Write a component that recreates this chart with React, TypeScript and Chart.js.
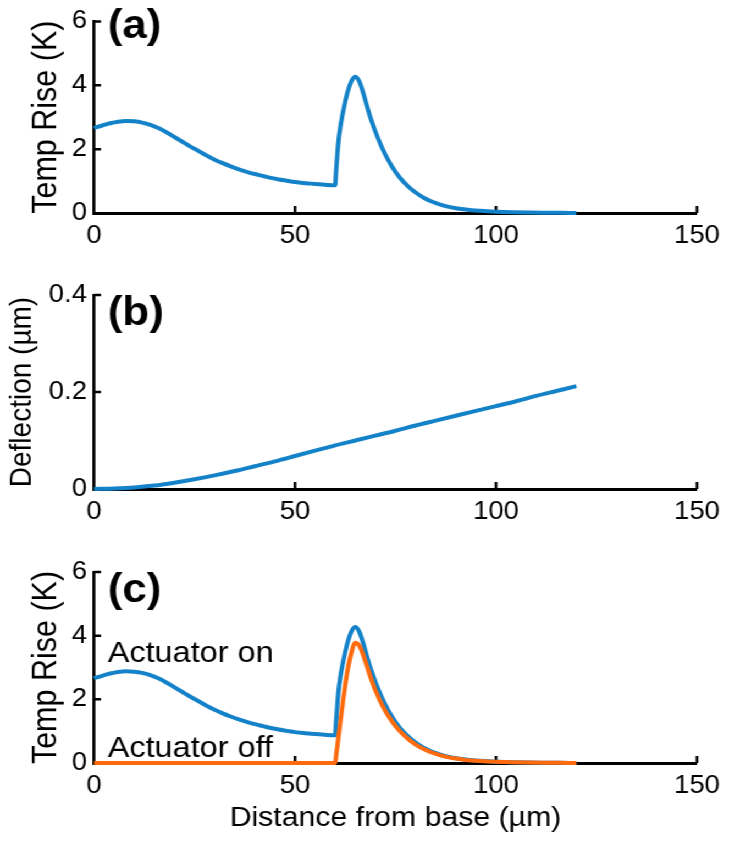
import React, { useEffect, useRef } from "react";
import { Chart, registerables } from "chart.js";

Chart.register(...registerables);

// ---------- data ----------
const distance = [
  0, 2, 4, 6, 8, 10, 12, 14, 16, 18, 20, 22, 24, 26, 28, 30, 32, 34, 36, 38, 40,
  42, 44, 46, 48, 50, 52, 54, 56, 58, 60, 60.2, 60.6, 61, 62, 63, 64, 65, 66, 67,
  68, 69, 70, 72, 74, 76, 78, 80, 82, 84, 86, 88, 90, 92, 94, 96, 98, 100, 104,
  108, 112, 116, 120,
];

const tempOn = [
  2.66, 2.74, 2.81, 2.86, 2.88, 2.87, 2.83, 2.76, 2.66, 2.53, 2.38, 2.23, 2.08,
  1.94, 1.8, 1.67, 1.56, 1.46, 1.37, 1.29, 1.22, 1.16, 1.1, 1.05, 1.01, 0.97,
  0.94, 0.92, 0.9, 0.88, 0.87, 1.25, 1.95, 2.45, 3.2, 3.75, 4.12, 4.27, 4.12,
  3.75, 3.3, 2.9, 2.55, 1.95, 1.48, 1.12, 0.85, 0.64, 0.48, 0.36, 0.27, 0.2,
  0.15, 0.115, 0.088, 0.068, 0.052, 0.04, 0.024, 0.014, 0.008, 0.004, 0.002,
];

const tempOff = [
  0, 0, 0, 0, 0, 0, 0, 0, 0, 0, 0, 0, 0, 0, 0, 0, 0, 0, 0, 0, 0, 0, 0, 0, 0, 0,
  0, 0, 0, 0, 0, 0.2, 0.6, 1.0, 2.0, 2.85, 3.45, 3.78, 3.68, 3.38, 3.0, 2.62,
  2.28, 1.74, 1.33, 1.01, 0.77, 0.58, 0.44, 0.33, 0.25, 0.185, 0.14, 0.105,
  0.08, 0.062, 0.048, 0.037, 0.022, 0.013, 0.007, 0.004, 0.002,
];

const deflDistance = [
  0, 5, 10, 15, 20, 25, 30, 35, 40, 45, 50, 55, 60, 65, 70, 75, 80, 85, 90, 95,
  100, 105, 110, 115, 120,
];

const deflection = [
  0, 0.001, 0.003, 0.007, 0.013, 0.02, 0.028, 0.037, 0.047, 0.057, 0.068, 0.079,
  0.09, 0.1, 0.11, 0.12, 0.131, 0.141, 0.151, 0.161, 0.171, 0.181, 0.192, 0.202,
  0.212,
];

const xTicks = [0, 50, 100, 150];
const tempTicks = [0, 2, 4, 6];
const deflTicks = [0, 0.2, 0.4];
const panelLabels = ["(a)", "(b)", "(c)"];
const annotations = ["Actuator on", "Actuator off"];
const yTitles = ["Temp Rise (K)", "Deflection (\u00b5m)", "Temp Rise (K)"];
const xTitle = "Distance from base (\u00b5m)";

// ---------- style / layout ----------
const BLUE = "#1482c8";
const ORANGE = "#ff6a0c";
const FONT = '"Liberation Sans", Arial, Helvetica, sans-serif';
const W = 663;
const K = 729 / W;
const AXIS_LEFT = 94 / K;
const RIGHT_PAD = W - 697 / K;

Chart.defaults.font.family = FONT;
Chart.defaults.color = "#000";

const toPoints = (xs: number[], ys: number[]) =>
  xs.map((x, i) => ({ x, y: ys[i] }));

const decor = {
  id: "decor",
  beforeDatasetsDraw(chart: any) {
    const { ctx, chartArea, scales } = chart;
    const xs = scales.x;
    const ys = scales.y;
    ctx.save();
    ctx.strokeStyle = "#000";
    ctx.lineWidth = 2.5;
    ctx.beginPath();
    xs.ticks.forEach((t: any) => {
      if (t.value === 0) return;
      const px = xs.getPixelForValue(t.value);
      ctx.moveTo(px, chartArea.bottom);
      ctx.lineTo(px, chartArea.bottom - 7);
    });
    ys.ticks.forEach((t: any) => {
      if (t.value === 0) return;
      const py = ys.getPixelForValue(t.value);
      ctx.moveTo(chartArea.left, py);
      ctx.lineTo(chartArea.left + 6.4, py);
    });
    ctx.stroke();
    ctx.restore();
  },
  afterDatasetsDraw(chart: any, _args: any, opts: any) {
    const { ctx, chartArea, scales } = chart;
    ctx.save();
    ctx.fillStyle = "#000";
    ctx.textAlign = "left";
    ctx.textBaseline = "alphabetic";
    ctx.font = `bold 40px ${FONT}`;
    ctx.fillText(opts.label, chartArea.left + 12.5, chartArea.top + opts.labelDy);
    if (opts.notes) {
      ctx.font = `29.5px ${FONT}`;
      opts.notes.forEach((n: any) => {
        ctx.fillText(n.text, chartArea.left + 12.5, scales.y.getPixelForValue(n.y));
      });
    }
    ctx.restore();
  },
};

type Spec = {
  top: number;
  height: number;
  plotTop: number;
  plotBottom: number;
  datasets: any[];
  yMax: number;
  yTicks: number[];
  yTitle: string;
  yTitleSize: number;
  yTitleX: number;
  xTitle?: string;
  label: string;
  labelDy: number;
  notes?: { text: string; y: number }[];
};

function Panel({ spec }: { spec: Spec }) {
  const ref = useRef<HTMLCanvasElement>(null);
  useEffect(() => {
    const chart = new Chart(ref.current as HTMLCanvasElement, {
      type: "line",
      data: { datasets: spec.datasets },
      options: {
        responsive: false,
        maintainAspectRatio: false,
        animation: false,
        events: [],
        layout: {
          padding: { top: spec.plotTop, right: RIGHT_PAD, left: 0, bottom: 0 },
        },
        elements: {
          point: { radius: 0 },
          line: { borderWidth: 4, cubicInterpolationMode: "monotone", tension: 0.4 },
        },
        plugins: {
          legend: { display: false },
          tooltip: { enabled: false },
          decor: { label: spec.label, labelDy: spec.labelDy, notes: spec.notes },
        } as any,
        scales: {
          x: {
            type: "linear",
            min: 0,
            max: 150,
            grid: { display: false, drawTicks: false },
            border: { display: true, color: "#000", width: 3 },
            ticks: {
              color: "#000",
              font: { size: 25 },
              padding: 8,
              maxRotation: 0,
              autoSkip: false,
            },
            afterBuildTicks: (s: any) => {
              s.ticks = xTicks.map((v) => ({ value: v }));
            },
            afterFit: (s: any) => {
              s.height = spec.height - spec.plotBottom;
            },
            title: spec.xTitle
              ? {
                  display: true,
                  text: spec.xTitle,
                  color: "#000",
                  font: { size: 27.5 },
                  padding: { top: 0, bottom: 8.5 },
                }
              : { display: false },
          },
          y: {
            type: "linear",
            min: 0,
            max: spec.yMax,
            grid: { display: false, drawTicks: false },
            border: { display: true, color: "#000", width: 3 / K },
            ticks: { color: "#000", font: { size: 25 }, padding: 6.4 },
            afterBuildTicks: (s: any) => {
              s.ticks = spec.yTicks.map((v) => ({ value: v }));
            },
            afterFit: (s: any) => {
              s.width = AXIS_LEFT;
            },
            title: {
              display: true,
              text: spec.yTitle,
              color: "#000",
              font: { size: spec.yTitleSize },
              padding: { top: spec.yTitleX - 0.6 * spec.yTitleSize, bottom: 0 },
            },
          },
        } as any,
      },
      plugins: [decor as any],
    });
    return () => chart.destroy();
  }, []);
  return (
    <canvas
      ref={ref}
      width={W}
      height={spec.height}
      style={{
        position: "absolute",
        left: 0,
        top: spec.top,
        width: W,
        height: spec.height,
      }}
    />
  );
}

const lineDs = (label: string, xs: number[], ys: number[], color: string, order: number) => ({
  label,
  data: toPoints(xs, ys),
  borderColor: color,
  backgroundColor: color,
  borderWidth: 4,
  fill: false,
  clip: false,
  order,
});

const specs: Spec[] = [
  {
    top: 0,
    height: 262,
    plotTop: 21,
    plotBottom: 213,
    datasets: [lineDs("on", distance, tempOn, BLUE, 0)],
    yMax: 6,
    yTicks: tempTicks,
    yTitle: yTitles[0],
    yTitleSize: 30.5,
    yTitleX: 42.7,
    label: panelLabels[0],
    labelDy: 16.5,
  },
  {
    top: 262,
    height: 288,
    plotTop: 33,
    plotBottom: 227,
    datasets: [lineDs("deflection", deflDistance, deflection, BLUE, 0)],
    yMax: 0.4,
    yTicks: deflTicks,
    yTitle: yTitles[1],
    yTitleSize: 28,
    yTitleX: 20,
    label: panelLabels[1],
    labelDy: 30,
  },
  {
    top: 550,
    height: 293,
    plotTop: 22,
    plotBottom: 213,
    datasets: [
      lineDs("off", distance, tempOff, ORANGE, 0),
      lineDs("on", distance, tempOn, BLUE, 1),
    ],
    yMax: 6,
    yTicks: tempTicks,
    yTitle: yTitles[2],
    yTitleSize: 30.5,
    yTitleX: 42.7,
    xTitle,
    label: panelLabels[2],
    labelDy: 30,
    notes: [
      { text: annotations[0], y: 3.17 },
      { text: annotations[1], y: 0.19 },
    ],
  },
];

export default function App() {
  return (
    <div
      style={{
        position: "absolute",
        left: 0,
        top: 0,
        width: W,
        height: 843,
        overflow: "hidden",
        background: "#fff",
        transform: `scaleX(${K})`,
        transformOrigin: "0 0",
      }}
    >
      {specs.map((s, i) => (
        <Panel key={i} spec={s} />
      ))}
    </div>
  );
}
